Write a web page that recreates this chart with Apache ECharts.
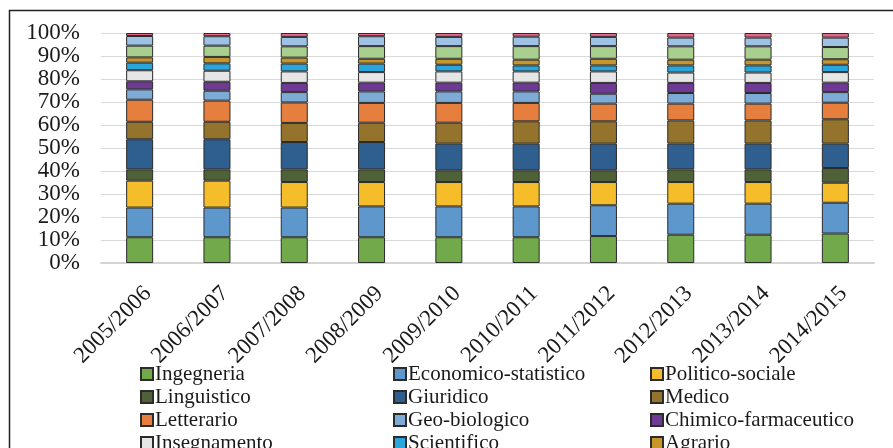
<!DOCTYPE html>
<html>
<head>
    <meta charset="utf-8">
    <title>Iscritti per gruppo disciplinare</title>
    <script type="text/javascript" src="https://cdn.jsdelivr.net/npm/echarts@6/dist/echarts.min.js"></script>
</head>
<body style="margin:0;">
<div id="main" style="width:893px;height:448px;"></div>

<script type="text/javascript">
    // anni accademici
    var years = ['2005/2006', '2006/2007', '2007/2008', '2008/2009', '2009/2010',
                 '2010/2011', '2011/2012', '2012/2013', '2013/2014', '2014/2015'];
    var yTicks = [0, 10, 20, 30, 40, 50, 60, 70, 80, 90, 100];

    // quote percentuali per gruppo
    var ingegneria   = [11.2, 11.2, 11.2, 11.2, 11.2, 11.2, 11.7, 12.3, 12.3, 12.8];
    var economico    = [12.9, 12.9, 12.9, 13.4, 13.4, 13.4, 13.4, 13.5, 13.5, 13.4];
    var politico     = [11.7, 11.7, 11.1, 10.6, 10.6, 10.6, 10.1,  9.4,  9.4,  8.7];
    var linguistico  = [ 4.9,  4.9,  5.5,  5.5,  5.1,  5.1,  5.1,  5.5,  5.5,  6.4];
    var giuridico    = [13.1, 13.1, 11.9, 11.9, 11.6, 11.6, 11.6, 11.2, 11.2, 10.6];
    var medico       = [ 7.6,  7.6,  8.3,  8.4,  9.1,  9.7,  9.7, 10.1, 10.1, 10.6];
    var letterario   = [ 9.6,  9.2,  8.9,  8.6,  8.6,  8.0,  7.7,  7.3,  7.3,  7.2];
    var geobiologico = [ 4.5,  4.3,  4.5,  5.0,  5.0,  5.0,  4.3,  4.6,  4.6,  4.6];
    var chimico      = [ 3.5,  3.9,  4.0,  3.8,  3.8,  3.8,  4.7,  4.4,  4.4,  4.1];
    var insegnamento = [ 4.8,  4.8,  5.0,  4.6,  4.9,  4.9,  5.0,  4.5,  4.5,  4.6];
    var scientifico  = [ 3.3,  3.2,  3.4,  3.7,  2.9,  2.6,  2.6,  3.1,  3.1,  3.2];
    var agrario      = [ 2.3,  2.8,  2.6,  2.1,  2.6,  2.5,  2.9,  2.5,  2.5,  2.4];
    var architettura = [ 5.1,  4.9,  4.9,  5.5,  5.5,  5.9,  5.5,  5.8,  5.8,  5.3];
    var psicologico  = [ 4.2,  4.1,  4.1,  4.3,  4.0,  4.1,  4.0,  3.8,  3.8,  4.1];
    var edFisica     = [ 1.3,  1.4,  1.7,  1.4,  1.7,  1.6,  1.7,  2.0,  2.0,  2.0];

    var groupNames = ['Ingegneria', 'Economico-statistico', 'Politico-sociale',
                      'Linguistico', 'Giuridico', 'Medico',
                      'Letterario', 'Geo-biologico', 'Chimico-farmaceutico',
                      'Insegnamento', 'Scientifico', 'Agrario',
                      'Architettura', 'Psicologico', 'Educazione fisica'];
    var groupValues = [ingegneria, economico, politico, linguistico, giuridico, medico,
                       letterario, geobiologico, chimico, insegnamento, scientifico, agrario,
                       architettura, psicologico, edFisica];
    var groupColors = ['#72a94a', '#5e97cc', '#f5bd29', '#4f6136', '#2f5f8e', '#94742c',
                       '#e67e3e', '#7eaad6', '#6e3a94', '#e6e6e6', '#2ba6dc', '#c7962b',
                       '#a9cf8e', '#9dc2e4', '#e4668a'];

    var serif = "'Liberation Serif', 'Times New Roman', serif";

    var series = [];
    for (var i = 0; i < groupNames.length; i++) {
        series.push({
            name: groupNames[i],
            type: 'bar',
            stack: 'tot',
            barWidth: 27,
            data: groupValues[i],
            itemStyle: { color: groupColors[i], borderColor: '#2b2b2b', borderWidth: 1 }
        });
    }

    // legenda su tre colonne (l'ultima riga esce dal riquadro, come nell'originale)
    function column(k, left) {
        var names = [];
        for (var j = k; j < groupNames.length; j += 3) names.push(groupNames[j]);
        return {
            data: names,
            orient: 'vertical',
            left: left,
            top: 358,
            height: 200,
            icon: 'rect',
            itemWidth: 12,
            itemHeight: 12,
            itemGap: 1,
            selectedMode: false,
            textStyle: { fontFamily: serif, fontSize: 21, color: '#1a1a1a', lineHeight: 22, padding: [0, 0, 0, -3] }
        };
    }

    var myChart = echarts.init(document.getElementById('main'));
    var option = {
        animation: false,
        grid: { left: 101, right: 19, top: 33, bottom: 185 },
        legend: [column(0, 135), column(1, 388), column(2, 645)],
        graphic: [{
            type: 'rect',
            shape: { x: 9.5, y: 10.5, width: 900, height: 500 },
            style: { fill: 'none', stroke: '#222', lineWidth: 1.5 },
            silent: true
        }],
        xAxis: {
            type: 'category',
            data: years,
            axisLine: { lineStyle: { color: '#d4d4d4', width: 2 } },
            axisTick: { show: false },
            axisLabel: { interval: 0, rotate: 45, margin: 19, verticalAlign: 'top',
                         fontFamily: serif, fontSize: 23, color: '#1a1a1a' }
        },
        yAxis: {
            type: 'value',
            min: yTicks[0],
            max: yTicks[yTicks.length - 1],
            interval: 10,
            axisLine: { show: false },
            axisTick: { show: false },
            splitLine: { lineStyle: { color: '#d9d9d9' } },
            axisLabel: { margin: 21, formatter: '{value}%', showMinLabel: true, showMaxLabel: true,
                         hideOverlap: false, padding: [6, 0, 0, 0],
                         fontFamily: serif, fontSize: 23, color: '#1a1a1a' }
        },
        series: series
    };
    myChart.setOption(option);
</script>
</body>
</html>
